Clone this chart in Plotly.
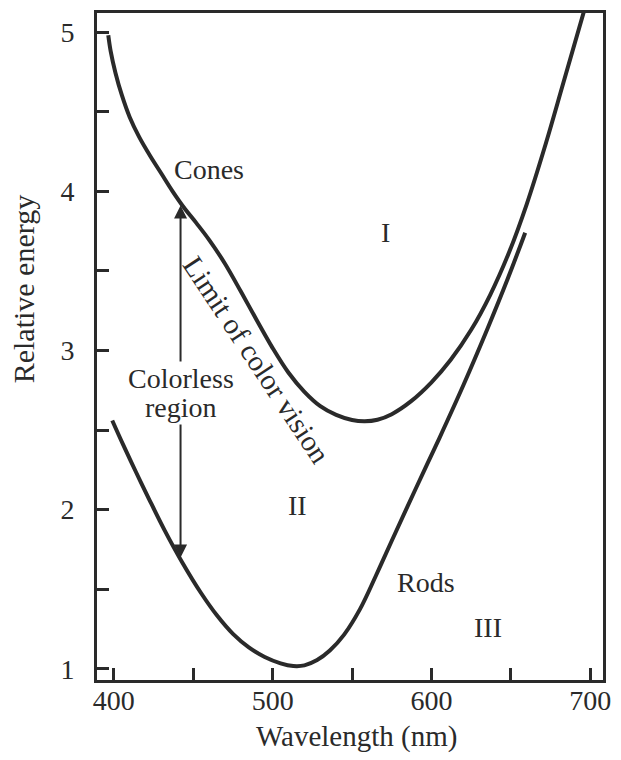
import plotly.graph_objects as go

# Threshold curves: relative energy vs wavelength (nm)
cones_wl = [396.5, 398, 401, 405, 410, 416, 423, 430, 437, 444, 452, 460, 470,
            480, 490, 500, 510, 520, 530, 540, 550, 558, 566, 575, 587, 600,
            612, 625, 637, 649, 660, 672, 683, 696]
cones_energy = [4.98, 4.88, 4.745, 4.605, 4.465, 4.34, 4.22, 4.11, 4.00, 3.90,
                3.80, 3.695, 3.545, 3.37, 3.19, 3.015, 2.86, 2.74, 2.65, 2.595,
                2.563, 2.555, 2.565, 2.60, 2.68, 2.80, 2.94, 3.13, 3.35, 3.62,
                3.92, 4.30, 4.68, 5.13]

rods_wl = [399, 406, 414, 422, 432, 443, 455, 465, 475, 485, 495, 505, 513,
           520, 528, 536, 545, 555, 565, 575, 590, 605, 620, 635, 648, 659]
rods_energy = [2.56, 2.405, 2.235, 2.07, 1.87, 1.67, 1.475, 1.335, 1.22,
               1.135, 1.075, 1.035, 1.018, 1.022, 1.055, 1.115, 1.215, 1.375,
               1.585, 1.805, 2.13, 2.45, 2.78, 3.13, 3.45, 3.74]

# Vertical span of the colorless region
colorless_wl = 442.0
colorless_top = 3.91
colorless_bottom = 1.69

x_ticks = [400, 450, 500, 550, 600, 650, 700]
x_tick_text = ["400", "", "500", "", "600", "", "700"]
y_ticks = [1, 1.5, 2, 2.5, 3, 3.5, 4, 4.5, 5]
y_tick_text = ["1", "", "2", "", "3", "", "4", "", "5"]

FONT = "Liberation Serif, Times New Roman, serif"
INK = "#2a2a2a"

fig = go.Figure()
for wl, en in [(cones_wl, cones_energy), (rods_wl, rods_energy)]:
    fig.add_trace(go.Scatter(
        x=wl, y=en, mode="lines",
        line=dict(color=INK, width=4, shape="spline", smoothing=1.0),
        hoverinfo="skip", showlegend=False,
    ))

axis_common = dict(
    showline=True, linecolor=INK, linewidth=3, mirror=True,
    ticks="inside", ticklen=12, tickwidth=2.5, tickcolor=INK,
    showgrid=False, zeroline=False,
    tickfont=dict(family=FONT, size=28, color=INK),
)

fig.update_xaxes(range=[389.4, 708], tickmode="array", tickvals=x_ticks,
                 ticktext=x_tick_text, ticklabelstandoff=-7, **axis_common)
fig.update_yaxes(range=[0.93, 5.12], tickmode="array", tickvals=y_ticks,
                 ticktext=y_tick_text, ticklabelstandoff=14, **axis_common)

annotations = []

# Double-headed arrow marking the colorless region
annotations.append(dict(
    x=colorless_wl, y=colorless_top, ax=colorless_wl, ay=colorless_bottom,
    xref="x", yref="y", axref="x", ayref="y", text="",
    showarrow=True, arrowside="end+start", arrowhead=2, arrowsize=1.3,
    arrowwidth=2, arrowcolor=INK, standoff=0, startstandoff=0,
))

def label(text, x, y, angle=0, bg=None, size=28):
    d = dict(x=x, y=y, xref="x", yref="y", text=text, showarrow=False,
             textangle=angle, font=dict(family=FONT, size=size, color=INK),
             xanchor="center", yanchor="middle")
    if bg:
        d.update(bgcolor=bg, borderpad=1)
    return d

annotations += [
    label("Colorless", colorless_wl, 2.825, bg="white"),
    label("region", colorless_wl, 2.64, bg="white"),
    label("Cones", 460, 4.14),
    label("Limit of color vision", 490, 2.94, angle=56.5, size=29),
    label("Rods", 596.3, 1.54),
    label("I", 571.3, 3.74),
    label("II", 515.6, 2.025),
    label("III", 635.6, 1.26),
]

# Axis titles
annotations.append(dict(
    x=23, y=287, xref="paper", yref="paper", text="Relative energy",
    showarrow=False, textangle=-90, font=dict(family=FONT, size=30, color=INK),
    xanchor="center", yanchor="middle",
))
annotations.append(dict(
    x=359, y=737, xref="paper", yref="paper", text="Wavelength (nm)",
    showarrow=False, font=dict(family=FONT, size=29, color=INK),
    xanchor="center", yanchor="middle",
))

# Convert pixel placement of axis titles into paper coordinates
W, H = 621, 760
ML, MR, MT, MB = 97, 14, 10, 80
pw, ph = W - ML - MR, H - MT - MB
for a in annotations[-2:]:
    a["x"] = (a["x"] - ML) / pw
    a["y"] = 1 - (a["y"] - MT) / ph

fig.update_layout(
    width=W, height=H,
    margin=dict(l=ML, r=MR, t=MT, b=MB),
    paper_bgcolor="white", plot_bgcolor="white",
    annotations=annotations,
    showlegend=False,
)

fig.write_html("out.html")
